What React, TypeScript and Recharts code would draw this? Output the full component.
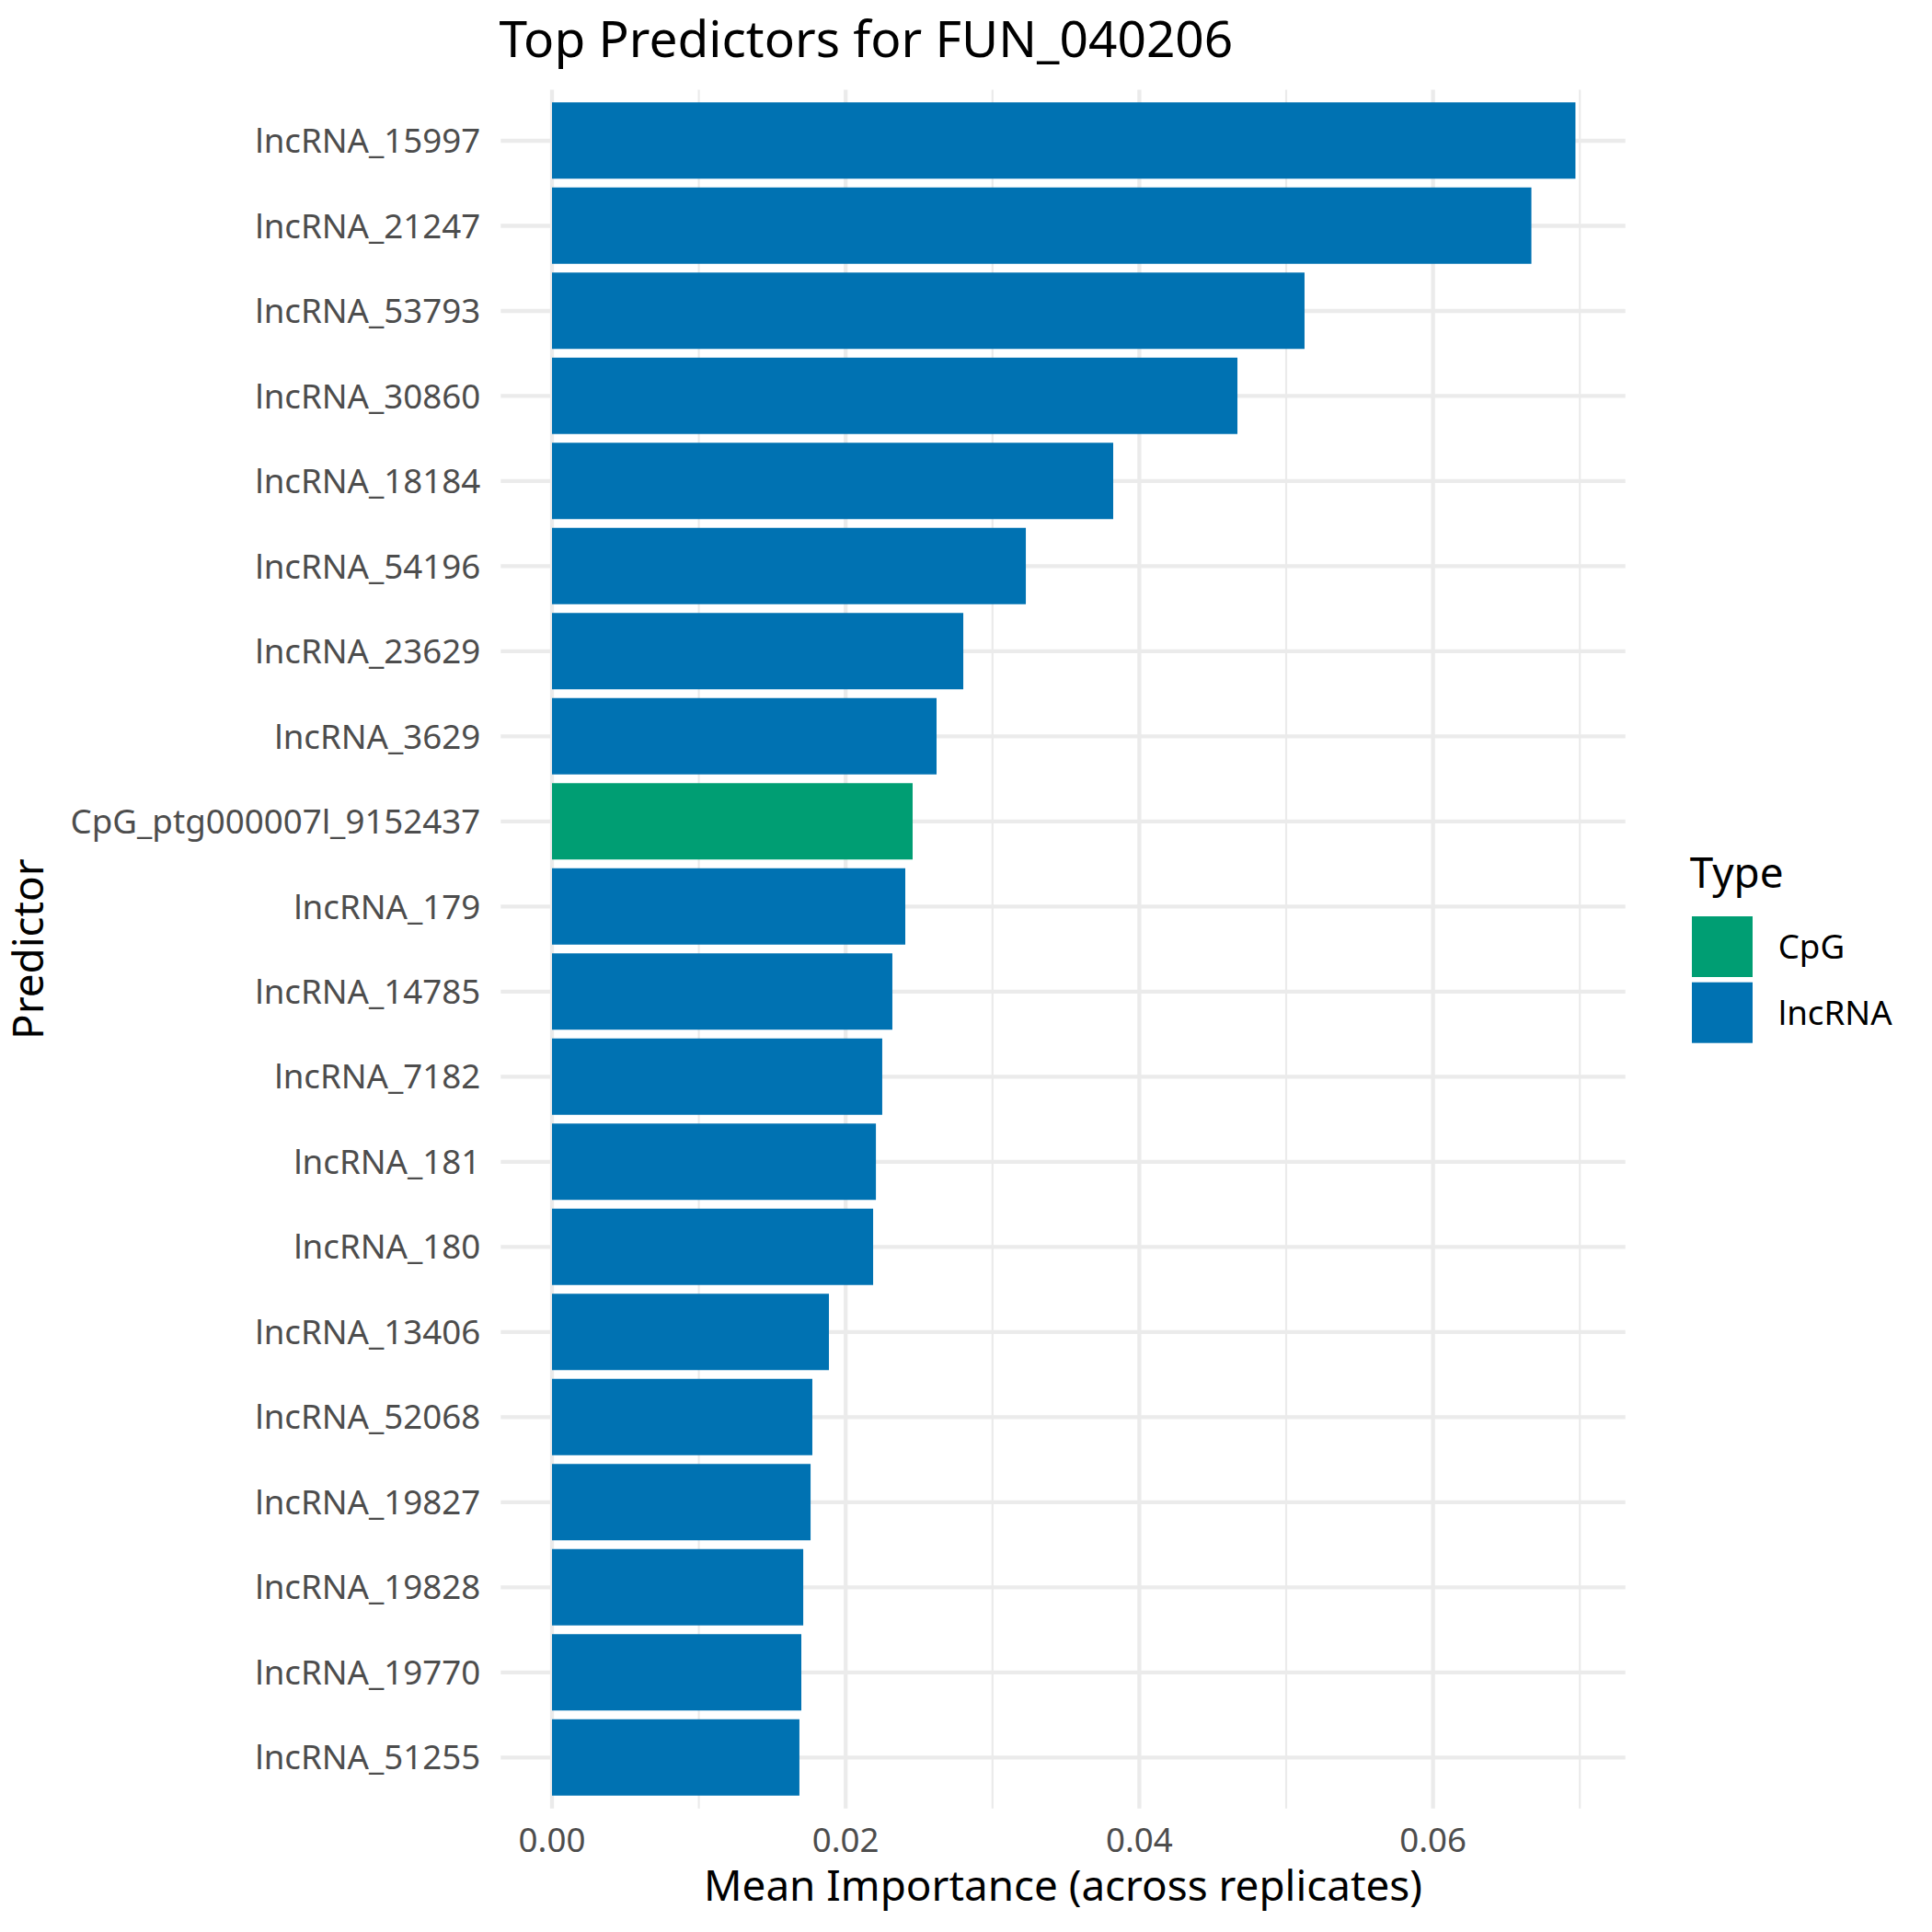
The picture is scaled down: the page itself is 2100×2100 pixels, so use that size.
import { Bar, BarChart, CartesianGrid, Cell, XAxis, YAxis } from "recharts";

const predictors = [
  "lncRNA_15997",
  "lncRNA_21247",
  "lncRNA_53793",
  "lncRNA_30860",
  "lncRNA_18184",
  "lncRNA_54196",
  "lncRNA_23629",
  "lncRNA_3629",
  "CpG_ptg000007l_9152437",
  "lncRNA_179",
  "lncRNA_14785",
  "lncRNA_7182",
  "lncRNA_181",
  "lncRNA_180",
  "lncRNA_13406",
  "lncRNA_52068",
  "lncRNA_19827",
  "lncRNA_19828",
  "lncRNA_19770",
  "lncRNA_51255",
];

const importance = [
  0.0697, 0.0667, 0.05125, 0.04668, 0.03822, 0.03227, 0.02801, 0.02619, 0.02456, 0.02406,
  0.02318, 0.02249, 0.02206, 0.02187, 0.01886, 0.01773, 0.01761, 0.01711, 0.01698, 0.01685,
];

const predictorTypes = [
  "lncRNA", "lncRNA", "lncRNA", "lncRNA", "lncRNA", "lncRNA", "lncRNA", "lncRNA", "CpG", "lncRNA",
  "lncRNA", "lncRNA", "lncRNA", "lncRNA", "lncRNA", "lncRNA", "lncRNA", "lncRNA", "lncRNA", "lncRNA",
];

const typeNames = ["CpG", "lncRNA"];
const typeColors = ["#009E73", "#0072B2"];

const majorTicks = [0, 0.02, 0.04, 0.06];
const minorTicks = [0.01, 0.03, 0.05, 0.07];
const xDomain = [-0.00349, 0.0731];

const data = predictors.map((name, i) => ({
  predictor: name,
  importance: importance[i],
  type: predictorTypes[i],
}));

const FONT = "'Noto Sans', 'Open Sans', sans-serif";
const GRID = "#EBEBEB";

function XTick(props: any) {
  const { x, y, payload } = props;
  return (
    <text x={x} y={y} dy={47.2} textAnchor="middle" fontSize={36.7} fontFamily={FONT} fill="#4D4D4D">
      {Number(payload.value).toFixed(2)}
    </text>
  );
}

function YTick(props: any) {
  const { x, y, payload } = props;
  return (
    <text x={x} y={y} dy={13.1} textAnchor="end" fontSize={36.7} fontFamily={FONT} fill="#4D4D4D">
      {payload.value}
    </text>
  );
}

export default function App() {
  return (
    <div style={{ position: "absolute", left: 0, top: 0, width: 2100, height: 2100, background: "white" }}>
      <BarChart
        width={2100}
        height={2100}
        data={data}
        layout="vertical"
        barCategoryGap="5%"
        margin={{ top: 97.5, right: 333.3, bottom: 74.2, left: 0 }}
      >
        <CartesianGrid stroke={GRID} strokeWidth={4.3} syncWithTicks />
        <CartesianGrid xAxisId="minor" horizontal={false} stroke={GRID} strokeWidth={2.2} syncWithTicks />
        <XAxis
          type="number"
          dataKey="importance"
          domain={xDomain}
          allowDataOverflow
          ticks={majorTicks}
          axisLine={false}
          tickLine={false}
          tickSize={0}
          tickMargin={0}
          height={60}
          tick={<XTick />}
        />
        <XAxis xAxisId="minor" type="number" domain={xDomain} allowDataOverflow ticks={minorTicks} hide />
        <YAxis
          type="category"
          dataKey="predictor"
          width={544.3}
          padding={{ top: 9.25, bottom: 9.25 }}
          axisLine={false}
          tickLine={false}
          tickSize={0}
          tickMargin={22}
          interval={0}
          tick={<YTick />}
        />
        <Bar dataKey="importance" isAnimationActive={false}>
          {data.map((d) => (
            <Cell key={d.predictor} fill={typeColors[typeNames.indexOf(d.type)]} />
          ))}
        </Bar>
      </BarChart>
      <svg
        width={2100}
        height={2100}
        style={{ position: "absolute", left: 0, top: 0, pointerEvents: "none" }}
        fontFamily={FONT}
      >
        <text x={542.4} y={61.7} fontSize={55} fill="#000">
          Top Predictors for FUN_040206
        </text>
        <text x={1155.5} y={2066} fontSize={45.8} textAnchor="middle" fill="#000">
          Mean Importance (across replicates)
        </text>
        <text
          x={46.7}
          y={1031.7}
          fontSize={45.8}
          textAnchor="middle"
          fill="#000"
          transform="rotate(-90 46.7 1031.7)"
        >
          Predictor
        </text>
        <text x={1836.7} y={965} fontSize={45.8} fill="#000">
          Type
        </text>
        {typeNames.map((t, i) => (
          <g key={t}>
            <rect x={1839} y={996 + i * 71.7} width={66} height={66} fill={typeColors[i]} />
            <text x={1932.7} y={1042 + i * 71.7} fontSize={36.7} fill="#000">
              {t}
            </text>
          </g>
        ))}
      </svg>
    </div>
  );
}
